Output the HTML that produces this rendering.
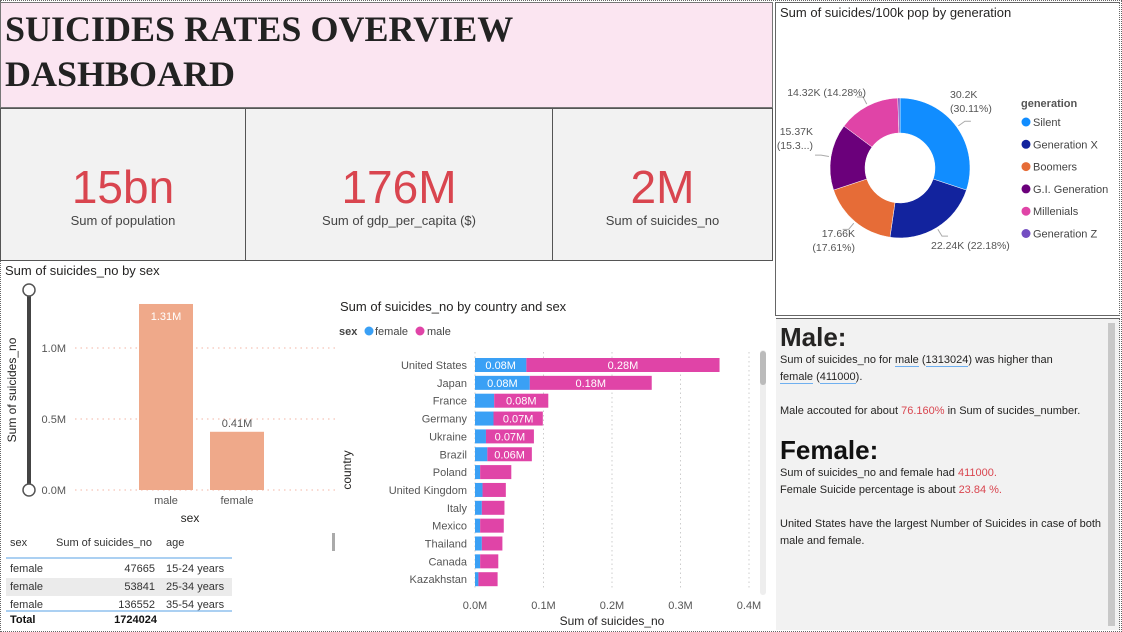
<!DOCTYPE html>
<html><head><meta charset="utf-8">
<style>
body{margin:0;width:1122px;height:632px;overflow:hidden;background:#fff;font-family:"Liberation Sans",sans-serif;position:relative}
.abs{position:absolute}
.kpi{position:absolute;top:108px;height:153px;background:#f2f2f2;border:1.5px solid #555;box-sizing:border-box;text-align:center}
.kpi .v{position:absolute;top:50px;width:100%;font-size:46px;line-height:56px;color:#d9454f}
.kpi .l{position:absolute;top:104px;width:100%;font-size:13px;color:#444}
svg text{font-family:"Liberation Sans",sans-serif}
.tp{font-size:11px;color:#252423;line-height:17px}
.red{color:#d9454f}
.u{border-bottom:1.5px solid #6fb0f0}
</style></head><body>
<div class="abs" style="left:0;top:0;width:1122px;height:632px;border:1px dotted #666;box-sizing:border-box"></div>
<div class="abs" style="left:0;top:2px;width:773px;height:106px;background:#fbe5f1;border:1px solid #777;box-sizing:border-box;font-family:'Liberation Serif',serif;font-weight:bold;font-size:36px;line-height:45px;color:#222;padding:4px 0 0 4px">SUICIDES RATES OVERVIEW<br>DASHBOARD</div>
<div class="kpi" style="left:0;width:246px"><div class="v">15bn</div><div class="l">Sum of population</div></div>
<div class="kpi" style="left:245px;width:308px"><div class="v">176M</div><div class="l">Sum of gdp_per_capita ($)</div></div>
<div class="kpi" style="left:552px;width:221px"><div class="v">2M</div><div class="l">Sum of suicides_no</div></div>

<!-- sex bar chart -->
<svg class="abs" style="left:0;top:262px" width="335" height="370">
<text x="5" y="13" font-size="13" fill="#252423">Sum of suicides_no by sex</text>
<line x1="29" y1="28" x2="29" y2="228" stroke="#444" stroke-width="4"/>
<circle cx="29" cy="28" r="6" fill="#fff" stroke="#555" stroke-width="1.5"/>
<circle cx="29" cy="228" r="6" fill="#fff" stroke="#555" stroke-width="1.5"/>
<text transform="translate(16,128) rotate(-90)" font-size="12" fill="#252423" text-anchor="middle">Sum of suicides_no</text>
<g id="sexg"></g>
<text x="190" y="260" font-size="12" fill="#252423" text-anchor="middle">sex</text>
<g font-size="11" fill="#333">
<text x="10" y="284">sex</text>
<text x="56" y="284">Sum of suicides_no</text>
<text x="166" y="284">age</text>
<line x1="6" y1="296" x2="232" y2="296" stroke="#8fc0ee" stroke-width="1.5"/>
<rect x="6" y="316" width="226" height="18" fill="#ebebeb"/>
<text x="10" y="310">female</text><text x="155" y="310" text-anchor="end">47665</text><text x="166" y="310">15-24 years</text>
<text x="10" y="328">female</text><text x="155" y="328" text-anchor="end">53841</text><text x="166" y="328">25-34 years</text>
<text x="10" y="346">female</text><text x="155" y="346" text-anchor="end">136552</text><text x="166" y="346">35-54 years</text>
<line x1="6" y1="349" x2="232" y2="349" stroke="#8fc0ee" stroke-width="1.5"/>
<text x="10" y="361" font-weight="bold" fill="#111">Total</text><text x="157" y="361" text-anchor="end" font-weight="bold" fill="#111">1724024</text>
</g>
</svg>

<!-- country chart -->
<svg class="abs" style="left:330px;top:290px" width="445" height="342">
<text x="10" y="21" font-size="13" fill="#252423">Sum of suicides_no by country and sex</text>
<text x="9" y="45" font-size="11" font-weight="bold" fill="#444">sex</text>
<circle cx="39" cy="41" r="4.5" fill="#3aa0f5"/>
<text x="45" y="45" font-size="11" fill="#444">female</text>
<circle cx="90" cy="41" r="4.5" fill="#e044a7"/>
<text x="97" y="45" font-size="11" fill="#444">male</text>
<text transform="translate(21,180) rotate(-90)" font-size="12" fill="#252423" text-anchor="middle">country</text>
<g id="cg"></g>
<text x="282" y="335" font-size="12" fill="#252423" text-anchor="middle">Sum of suicides_no</text>
<rect x="430" y="60" width="6" height="245" rx="3" fill="#eee"/>
<rect x="430" y="61" width="6" height="34" rx="3" fill="#bbb"/>
<rect x="2" y="243" width="3" height="18" fill="#aaa"/>
</svg>

<!-- donut -->
<div class="abs" style="left:775px;top:2px;width:345px;height:314px;border:1px solid #666;border-right:1px dotted #666;box-sizing:border-box"></div>
<svg class="abs" style="left:775px;top:0" width="347" height="318">
<text x="5" y="17" font-size="13" fill="#252423">Sum of suicides/100k pop by generation</text>
<g id="dg"></g>
<text x="246" y="107" font-size="11" font-weight="bold" fill="#555">generation</text>
<g id="lg" font-size="11" fill="#444"></g>
</svg>

<!-- text panel -->
<div class="abs" style="left:776px;top:318px;width:344px;height:312px;background:#f2f2f2;border-top:1px solid #666;border-right:1px dotted #666;box-sizing:border-box;padding:3px 0 0 4px">
<div style="font-weight:bold;font-size:26px;color:#252423;line-height:30px">Male:</div>
<div class="tp" style="width:320px">Sum of suicides_no for <span class="u">male</span> (<span class="u">1313024</span>) was higher than<br><span class="u">female</span> (<span class="u">411000</span>).<br><br>Male accouted for about <span class="red">76.160%</span> in Sum of sucides_number.</div>
<div style="font-weight:bold;font-size:26px;color:#111;line-height:30px;margin-top:15px">Female:</div>
<div class="tp" style="width:325px">Sum of suicides_no and female had <span class="red">411000.</span><br>Female Suicide percentage is about <span class="red">23.84 %.</span><br><br>United States have the largest Number of Suicides in case of both male and female.</div>
<div class="abs" style="left:332px;top:4px;width:7px;height:303px;background:#c8c8c8"></div>
</div>

<script>
const NS="http://www.w3.org/2000/svg";
function mk(p,t,a){const e=document.createElementNS(NS,t);for(const k in a)e.setAttribute(k,a[k]);p.appendChild(e);return e;}

// sex chart
const sexCats=["male","female"];
const sexVals=[1.31,0.41];
const sexLabels=["1.31M","0.41M"];
const sexTicks=[0,0.5,1.0];
const sexTickLabels=["0.0M","0.5M","1.0M"];
(function(){
const g=document.getElementById("sexg");
const y=v=>228-v*142;
sexTicks.forEach((t,i)=>{
 const l=mk(g,"line",{x1:75,x2:335,y1:y(t),y2:y(t),stroke:"#f3b4a4","stroke-dasharray":"1.5,4"});
 
 
 const tx=mk(g,"text",{x:66,y:y(t)+4,"font-size":11,fill:"#555","text-anchor":"end"});tx.textContent=sexTickLabels[i];
 
 
});
sexCats.forEach((c,i)=>{
 const cx=166+i*71;
 const r=mk(g,"rect",{x:cx-27,y:y(sexVals[i]),width:54,height:228-y(sexVals[i]),fill:"#efa98a"});
 
 
 const inside=(228-y(sexVals[i]))>60;
 const t=mk(g,"text",{x:cx,y:inside?y(sexVals[i])+16:y(sexVals[i])-5,"font-size":11,fill:inside?"#fff":"#555","text-anchor":"middle"});t.textContent=sexLabels[i];
 
 
 const xl=mk(g,"text",{x:cx,y:242,"font-size":11,fill:"#555","text-anchor":"middle"});xl.textContent=c;
 
 
});
})();

// country chart
const countries=["United States","Japan","France","Germany","Ukraine","Brazil","Poland","United Kingdom","Italy","Mexico","Thailand","Canada","Kazakhstan"];
const femaleVals=[0.075,0.08,0.028,0.027,0.016,0.018,0.0075,0.011,0.01,0.0075,0.01,0.0075,0.005];
const maleVals=[0.282,0.178,0.079,0.072,0.07,0.065,0.0455,0.034,0.033,0.0345,0.03,0.0265,0.028];
const maleLabels=["0.28M","0.18M","0.08M","0.07M","0.07M","0.06M","","","","","","",""];
const femaleLabels=["0.08M","0.08M","","","","","","","","","","",""];
const cTicks=[0,0.1,0.2,0.3,0.4];
const cTickLabels=["0.0M","0.1M","0.2M","0.3M","0.4M"];
(function(){
const g=document.getElementById("cg");
const x=v=>145+v*685;
const y=i=>75+i*17.85;
cTicks.forEach((t,i)=>{
 const l=mk(g,"line",{x1:x(t),x2:x(t),y1:62,y2:300,stroke:"#ccc","stroke-dasharray":"1.5,3"});
 
 
 const tx=mk(g,"text",{x:x(t),y:319,"font-size":11,fill:"#555","text-anchor":"middle"});tx.textContent=cTickLabels[i];
 
 
});
countries.forEach((c,i)=>{
 const yc=y(i);
 const lt=mk(g,"text",{x:137,y:yc+4,"font-size":11,fill:"#555","text-anchor":"end"});lt.textContent=c;
 
 
 const f=mk(g,"rect",{x:x(0),y:yc-7,width:x(femaleVals[i])-x(0),height:14,fill:"#3aa0f5"});
 
 
 const m=mk(g,"rect",{x:x(femaleVals[i]),y:yc-7,width:x(femaleVals[i]+maleVals[i])-x(femaleVals[i]),height:14,fill:"#e044a7"});
 
 
 if(femaleLabels[i]){const t=mk(g,"text",{x:(x(0)+x(femaleVals[i]))/2,y:yc+4,"font-size":11,fill:"#fff","text-anchor":"middle"});t.textContent=femaleLabels[i];
  
  }
 if(maleLabels[i]){const t=mk(g,"text",{x:(x(femaleVals[i])+x(femaleVals[i]+maleVals[i]))/2,y:yc+4,"font-size":11,fill:"#fff","text-anchor":"middle"});t.textContent=maleLabels[i];
  
  }
});
})();

// donut
const gens=["Silent","Generation X","Boomers","G.I. Generation","Millenials","Generation Z"];
const genVals=[30.2,22.24,17.66,15.37,14.32,0.5];
const genColors=["#118dff","#12239e","#e66c37","#6b007b","#e044a7","#744ec2"];
(function(){
const g=document.getElementById("dg");
const cx=125,cy=168,R=70,r=35;
const tot=genVals.reduce((a,b)=>a+b,0);
let a0=0;
const lbls=[["30.2K","(30.11%)",175,98,"start"],["22.24K (22.18%)","",156,249,"start"],["17.66K","(17.61%)",80,237,"end"],["15.37K","(15.3...)",38,135,"end"],["14.32K (14.28%)","",91,96,"end"],null];
genVals.forEach((v,i)=>{
 const a1=a0+v/tot*2*Math.PI;
 const p=(ang,rad)=>[cx+rad*Math.sin(ang),cy-rad*Math.cos(ang)];
 const [x1,y1]=p(a0,R),[x2,y2]=p(a1,R),[x3,y3]=p(a1,r),[x4,y4]=p(a0,r);
 const lg=(a1-a0)>Math.PI?1:0;
 const s=mk(g,"path",{d:`M${x1},${y1}A${R},${R} 0 ${lg} 1 ${x2},${y2}L${x3},${y3}A${r},${r} 0 ${lg} 0 ${x4},${y4}Z`,fill:genColors[i],stroke:"#fff","stroke-width":0.5});
 
 
 const L=lbls[i];
 if(L){
  const mid=(a0+a1)/2;const [ex,ey]=p(mid,R+2),[ox,oy]=p(mid,R+10);
  mk(g,"polyline",{points:`${ex},${ey} ${ox},${oy} ${L[4]=="start"?ox+6:ox-6},${oy}`,fill:"none",stroke:"#aaa"});
  const t=mk(g,"text",{x:L[2],y:L[3],"font-size":10.5,fill:"#555","text-anchor":L[4]});t.textContent=L[0];
  
  
  if(L[1]){const t2=mk(g,"text",{x:L[2],y:L[3]+14,"font-size":10.5,fill:"#555","text-anchor":L[4]});t2.textContent=L[1];
   
   }
 }
 a0=a1;
});
const lg=document.getElementById("lg");
gens.forEach((n,i)=>{
 const yy=122+i*22.3;
 const c=mk(lg,"circle",{cx:251,cy:yy,r:4.5,fill:genColors[i]});
 
 
 const t=mk(lg,"text",{x:258,y:yy+4});t.textContent=n;
 
 
});
})();
</script>
</body></html>
